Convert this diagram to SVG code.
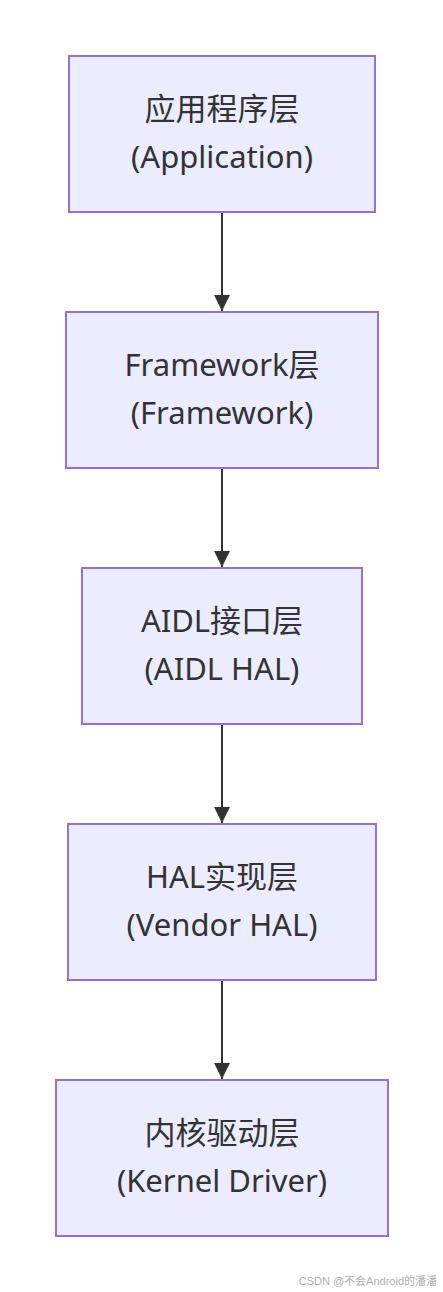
<svg xmlns="http://www.w3.org/2000/svg" width="443" height="1292" viewBox="0 0 443 1292">
<defs>
<style>
.node rect{fill:#ECECFF;stroke:#9370DB;stroke-width:2}
.node text{fill:#333333;font-family:"Noto Sans","Noto Sans CJK SC",sans-serif;font-size:31px;text-anchor:middle}
.edge{stroke:#333333;stroke-width:2;fill:none}
.wm{fill:#b0b0b0;font-family:"Liberation Sans","Noto Sans CJK SC",sans-serif;font-size:11px;text-anchor:end}
</style>
<marker id="arrow" viewBox="0 0 10 10" refX="10" refY="5" markerUnits="userSpaceOnUse" markerWidth="16" markerHeight="16" orient="auto">
<path d="M0,0 L10,5 L0,10 z" fill="#333333"/>
</marker>
</defs>
<rect width="443" height="1292" fill="#ffffff"/>
<g id="connectors">
<line class="edge" x1="222" y1="212" x2="222" y2="311" marker-end="url(#arrow)"/>
<line class="edge" x1="222" y1="468" x2="222" y2="567" marker-end="url(#arrow)"/>
<line class="edge" x1="222" y1="724" x2="222" y2="823" marker-end="url(#arrow)"/>
<line class="edge" x1="222" y1="980" x2="222" y2="1079" marker-end="url(#arrow)"/>
</g>
<g id="app" class="node">
<rect x="69" y="56" width="306" height="156"/>
<text x="222" y="120">应用程序层</text>
<text x="222" y="168">(Application)</text>
</g>
<g id="framework" class="node">
<rect x="66" y="312" width="312" height="156"/>
<text x="222" y="376">Framework层</text>
<text x="222" y="424">(Framework)</text>
</g>
<g id="aidl" class="node">
<rect x="82" y="568" width="280" height="156"/>
<text x="222" y="632">AIDL接口层</text>
<text x="222" y="680">(AIDL HAL)</text>
</g>
<g id="hal" class="node">
<rect x="68" y="824" width="308" height="156"/>
<text x="222" y="888">HAL实现层</text>
<text x="222" y="936">(Vendor HAL)</text>
</g>
<g id="kernel" class="node">
<rect x="56" y="1080" width="332" height="156"/>
<text x="222" y="1144">内核驱动层</text>
<text x="222" y="1192">(Kernel Driver)</text>
</g>
<text class="wm" x="437" y="1285">CSDN @不会Android的潘潘</text>
</svg>
